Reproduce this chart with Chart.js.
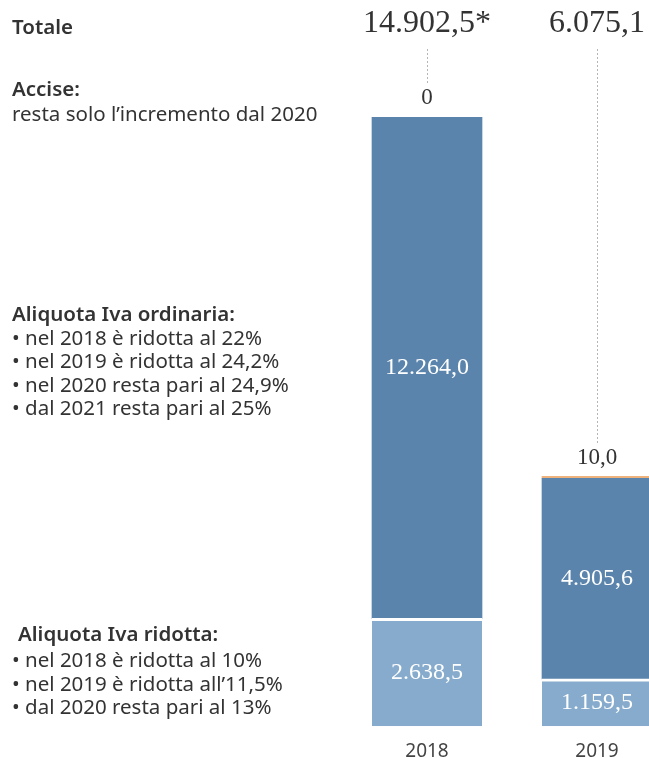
<!DOCTYPE html>
<html>
<head>
<meta charset="utf-8">
<script src="https://cdn.jsdelivr.net/npm/chart.js@4.4.1/dist/chart.umd.min.js"></script>
<style>
  html, body { margin: 0; padding: 0; background: #fff; overflow: hidden; width: 649px; height: 758px; }
  #wrap { position: relative; width: 700px; height: 758px; }
  #chart { position: absolute; left: 0; top: 0; }
  .note { position: absolute; font-family: 'Noto Sans', sans-serif; font-size: 20.5px; color: #333; line-height: 23.5px; white-space: nowrap; }
  .note b { font-weight: 600; }
</style>
</head>
<body>
<div id="wrap">
  <canvas id="chart" width="700" height="758"></canvas>
  <div class="note" style="left:12px; top:15px;"><b>Totale</b></div>
  <div class="note" style="left:12px; top:76px; line-height:25px;"><b>Accise:</b><br>resta solo l’incremento dal 2020</div>
  <div class="note" style="left:12px; top:302px;"><b>Aliquota Iva ordinaria:</b><br>• nel 2018 è ridotta al 22%<br>• nel 2019 è ridotta al 24,2%<br>• nel 2020 resta pari al 24,9%<br>• dal 2021 resta pari al 25%</div>
  <div class="note" style="left:18px; top:622px;"><b>Aliquota Iva ridotta:</b></div>
  <div class="note" style="left:12px; top:648px;">• nel 2018 è ridotta al 10%<br>• nel 2019 è ridotta all’11,5%<br>• dal 2020 resta pari al 13%</div>
</div>
<script>
// valori in milioni di euro
const anni = ['2018', '2019'];
const ivaRidotta = [2638.5, 1159.5];
const ivaOrdinaria = [12264.0, 4905.6];
const accise = [0, 10.0];
const noteTotale = ['*', ''];

const totali = anni.map((a, i) => ivaRidotta[i] + ivaOrdinaria[i] + accise[i]);

function fmt(v) {
    if (v === 0) return '0';
    const parts = v.toFixed(1).split('.');
    return parts[0].replace(/\B(?=(\d{3})+(?!\d))/g, '.') + ',' + parts[1];
}

const etichette = {
    id: 'etichette',
    afterDatasetsDraw(chart) {
        const ctx = chart.ctx;
        ctx.save();
        ctx.textAlign = 'center';
        ctx.textBaseline = 'middle';

        // valori dentro le barre
        ctx.fillStyle = '#ffffff';
        ctx.font = '24px "Liberation Serif", serif';
        [0, 1].forEach(d => {
            chart.getDatasetMeta(d).data.forEach((bar, i) => {
                const v = chart.data.datasets[d].data[i];
                ctx.fillText(fmt(v), bar.x, (bar.y + bar.base) / 2);
            });
        });

        // accise sopra le barre, totali e linee tratteggiate
        const meta = chart.getDatasetMeta(2);
        meta.data.forEach((bar, i) => {
            const yLab = bar.y - 18;
            ctx.fillStyle = '#333';
            ctx.font = '23px "Liberation Serif", serif';
            ctx.fillText(fmt(accise[i]), bar.x, yLab);

            ctx.font = '32px "Liberation Serif", serif';
            ctx.fillText(fmt(totali[i]) + noteTotale[i], bar.x, 24);

            ctx.strokeStyle = '#b5b5b5';
            ctx.lineWidth = 1;
            ctx.setLineDash([2, 2]);
            ctx.beginPath();
            ctx.moveTo(Math.round(bar.x) + 0.5, 49);
            ctx.lineTo(Math.round(bar.x) + 0.5, yLab - 14);
            ctx.stroke();
            ctx.setLineDash([]);
        });
        ctx.restore();
    }
};

new Chart(document.getElementById('chart'), {
    type: 'bar',
    data: {
        labels: anni,
        datasets: [
            {
                label: 'Aliquota Iva ridotta',
                data: ivaRidotta,
                backgroundColor: '#86abcc',
                borderColor: '#ffffff',
                borderWidth: { top: 3, left: 0, right: 0, bottom: 0 },
                borderSkipped: false
            },
            {
                label: 'Aliquota Iva ordinaria',
                data: ivaOrdinaria,
                backgroundColor: '#5a84ab',
                borderWidth: 0
            },
            {
                label: 'Accise',
                data: accise,
                backgroundColor: c => c.raw > 0 ? '#eeb27c' : 'rgba(0,0,0,0)',
                borderWidth: 0,
                minBarLength: 2
            }
        ]
    },
    options: {
        responsive: false,
        animation: false,
        layout: { padding: { left: 342, right: 18, top: 117, bottom: -19 } },
        datasets: { bar: { barThickness: 110 } },
        plugins: {
            legend: { display: false },
            tooltip: { enabled: false }
        },
        scales: {
            x: {
                stacked: true,
                grid: { display: false, drawTicks: false },
                border: { display: false },
                ticks: {
                    padding: 14,
                    color: '#444',
                    font: { family: 'Noto Sans', size: 19 }
                }
            },
            y: {
                stacked: true,
                display: false,
                min: 0,
                max: Math.max(...totali)
            }
        }
    },
    plugins: [etichette]
});
</script>
</body>
</html>
